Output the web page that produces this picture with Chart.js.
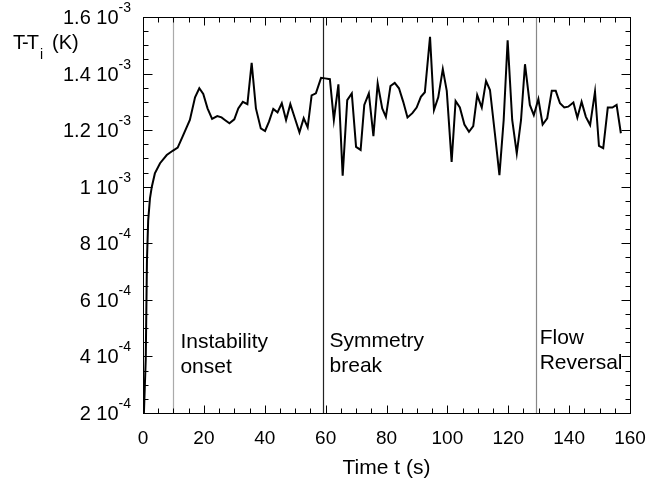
<!DOCTYPE html>
<html>
<head>
<meta charset="utf-8">
<script src="https://cdn.jsdelivr.net/npm/chart.js@4"></script>
<style>
  html, body { margin: 0; padding: 0; background: #fff; }
  #wrap { width: 648px; height: 484px; }
</style>
</head>
<body>
<div id="wrap"><canvas id="myChart" width="648" height="484"></canvas></div>
<script>
// time (s) and temperature rise, in units of 1e-4 K
const times = [0.3, 0.9, 1.3, 1.7, 2.3, 2.9, 3.9, 5.6, 7.8, 9.75, 11.4, 13.0, 15.4, 17.1, 18.5, 19.8,
  21.2, 22.7, 24.4, 25.8, 26.9, 28.4, 30.0, 31.3, 32.8, 34.3, 35.7, 37.1, 38.7, 40.1, 41.4, 42.8,
  44.2, 45.6, 47.0, 48.4, 49.9, 51.4, 52.8, 54.1, 55.4, 56.8, 58.5, 59.8, 61.4, 62.7, 64.2, 65.6,
  67.1, 68.6, 70.0, 71.5, 72.7, 74.2, 75.7, 77.1, 78.6, 79.8, 81.3, 82.7, 84.1, 85.5, 86.9, 88.5,
  89.9, 91.3, 92.6, 94.3, 95.6, 97.0, 98.5, 99.8, 101.4, 102.7, 104.1, 105.6, 107.1, 108.5, 109.8,
  111.3, 112.7, 114.0, 115.6, 117.1, 118.5, 119.8, 121.3, 122.8, 124.2, 125.5, 127.1, 128.4, 129.9,
  131.3, 132.8, 134.3, 135.6, 137.0, 138.4, 139.7, 141.4, 142.7, 144.1, 145.5, 146.9, 148.5, 149.8,
  151.2, 152.7, 154.2, 155.6, 157.0];
const tempsE4 = [2.0, 3.9, 7.4, 8.8, 9.6, 10.0, 10.47, 10.83, 11.12, 11.27, 11.38, 11.77, 12.36, 13.16, 13.48, 13.28,
  12.77, 12.4, 12.5, 12.45, 12.36, 12.24, 12.38, 12.77, 13.0, 12.92, 14.38, 12.77, 12.06, 11.97, 12.3, 12.75,
  12.63, 12.95, 12.36, 12.92, 12.42, 11.92, 12.42, 12.1, 13.23, 13.3, 13.85, 13.83, 13.8, 12.36, 13.62, 10.39,
  13.06, 13.3, 11.41, 11.3, 12.89, 13.3, 11.79, 13.65, 12.77, 12.47, 13.56, 13.67, 13.48, 13.0, 12.45, 12.6,
  12.8, 13.18, 13.34, 15.3, 12.71, 13.16, 14.16, 13.39, 10.88, 13.03, 12.8, 12.2, 11.94, 12.14, 13.24,
  12.8, 13.74, 13.42, 11.89, 10.41, 12.36, 15.18, 12.36, 11.18, 12.36, 14.33, 12.89, 12.53, 13.1,
  12.2, 12.42, 13.39, 13.39, 12.95, 12.8, 12.83, 12.98, 12.44, 13.0, 12.47, 12.18, 13.36, 11.44,
  11.36, 12.8, 12.8, 12.89, 11.89];

const eventTimes = [10, 59, 129];
const eventLabels = [['Instability', 'onset'], ['Symmetry', 'break'], ['Flow', 'Reversal']];

const xTickValues = [0, 20, 40, 60, 80, 100, 120, 140, 160];
const yTickValues = [2e-4, 4e-4, 6e-4, 8e-4, 1e-3, 1.2e-3, 1.4e-3, 1.6e-3];
const yTickMantissa = ['2', '4', '6', '8', '1', '1.2', '1.4', '1.6'];
const yTickExp = ['-4', '-4', '-4', '-4', '-3', '-3', '-3', '-3'];

const fontFamily = '"Liberation Sans", Arial, Helvetica, sans-serif';
const eventColors = ['#aaaaaa', '#222222', '#888888'];
const eventOffsets = [[7, 348, 373], [7, 347, 372], [4, 344, 369]];

const points = times.map((t, i) => ({ x: t, y: tempsE4[i] * 1e-4 }));

// vertical event lines, under the curve
const eventLines = {
  id: 'eventLines',
  beforeDatasetsDraw(chart) {
    const { ctx, chartArea: a, scales: { x } } = chart;
    ctx.save();
    eventTimes.forEach((t, i) => {
      const px = Math.round(x.getPixelForValue(t)) + 0.5;
      ctx.strokeStyle = eventColors[i];
      ctx.lineWidth = 1.2;
      ctx.beginPath();
      ctx.moveTo(px, a.top);
      ctx.lineTo(px, a.bottom);
      ctx.stroke();
    });
    ctx.restore();
  }
};

// frame, inward ticks, labels with exponents
const frameAndLabels = {
  id: 'frameAndLabels',
  afterDraw(chart) {
    const { ctx, chartArea: a, scales: { x, y } } = chart;
    ctx.save();
    ctx.strokeStyle = '#000';
    ctx.fillStyle = '#000';
    ctx.lineWidth = 1;
    const L = Math.round(a.left) + 0.5, R = Math.round(a.right) + 0.5;
    const T = Math.round(a.top) + 0.5, B = Math.round(a.bottom) + 0.5;
    ctx.strokeRect(L, T, R - L, B - T);

    ctx.beginPath();
    for (let v = 0; v <= 160; v += 5) {
      const px = Math.round(x.getPixelForValue(v)) + 0.5;
      const len = v % 20 === 0 ? 8 : 5;
      ctx.moveTo(px, B); ctx.lineTo(px, B - len);
      ctx.moveTo(px, T); ctx.lineTo(px, T + len);
    }
    for (let k = 0; k <= 28; k++) {
      const py = Math.round(y.getPixelForValue((2 + k * 0.5) * 1e-4)) + 0.5;
      const len = k % 4 === 0 ? 9 : 5;
      ctx.moveTo(L, py); ctx.lineTo(L + len, py);
      ctx.moveTo(R, py); ctx.lineTo(R - len, py);
    }
    ctx.stroke();

    // x tick labels
    ctx.font = '19px ' + fontFamily;
    ctx.textAlign = 'center';
    ctx.textBaseline = 'alphabetic';
    xTickValues.forEach(v => {
      ctx.fillText(String(v), x.getPixelForValue(v), 444);
    });

    // y tick labels "m 10^e"
    yTickValues.forEach((v, i) => {
      const py = y.getPixelForValue(v);
      ctx.textAlign = 'right';
      ctx.font = '14px ' + fontFamily;
      ctx.fillText(yTickExp[i], 131, py - 5);
      const sw = ctx.measureText(yTickExp[i]).width;
      ctx.font = '20px ' + fontFamily;
      ctx.fillText(yTickMantissa[i] + ' 10', 131 - sw, py + 7);
    });

    // axis titles
    ctx.textAlign = 'left';
    ctx.font = '20px ' + fontFamily;
    ctx.letterSpacing = '-2px';
    ctx.fillText('T-T', 13, 49);
    ctx.letterSpacing = '0px';
    ctx.font = '14px ' + fontFamily;
    ctx.fillText('i', 40, 59);
    ctx.font = '20px ' + fontFamily;
    ctx.fillText('(K)', 52, 49);

    ctx.font = '21px ' + fontFamily;
    ctx.textAlign = 'center';
    ctx.fillText('Time t (s)', (a.left + a.right) / 2, 474);

    // event annotations
    ctx.textAlign = 'left';
    eventTimes.forEach((t, i) => {
      const px = x.getPixelForValue(t) + eventOffsets[i][0];
      ctx.fillText(eventLabels[i][0], px, eventOffsets[i][1]);
      ctx.fillText(eventLabels[i][1], px, eventOffsets[i][2]);
    });
    ctx.restore();
  }
};

const ctx = document.getElementById('myChart').getContext('2d');

const myChart = new Chart(ctx, {
  type: 'line',
  data: {
    datasets: [{
      label: 'T-Ti',
      data: points,
      borderColor: '#000',
      borderWidth: 2,
      pointRadius: 0,
      tension: 0,
      fill: false
    }]
  },
  options: {
    responsive: false,
    animation: false,
    layout: { padding: { left: 143, top: 17, right: 18, bottom: 71 } },
    plugins: {
      legend: { display: false },
      tooltip: { enabled: false }
    },
    scales: {
      x: { type: 'linear', min: 0, max: 160, display: false },
      y: { type: 'linear', min: 2e-4, max: 1.6e-3, display: false }
    }
  },
  plugins: [eventLines, frameAndLabels]
});
</script>
</body>
</html>
